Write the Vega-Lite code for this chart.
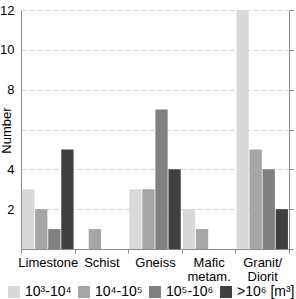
{
  "$schema": "https://vega.github.io/schema/vega-lite/v6.json",
  "width": 268,
  "height": 239,
  "autosize": "none",
  "padding": {"left": 21, "top": 10, "right": 7, "bottom": 50},
  "background": "white",
  "config": {
    "font": "Liberation Sans",
    "view": {"stroke": null},
    "axis": {"labelColor": "#000", "titleColor": "#000", "domainColor": "#8c8c8c", "tickColor": "#8c8c8c"}
  },
  "data": {
    "values": [
      {"rock": "Limestone", "size": "10³-10⁴", "count": 3},
      {"rock": "Limestone", "size": "10⁴-10⁵", "count": 2},
      {"rock": "Limestone", "size": "10⁵-10⁶", "count": 1},
      {"rock": "Limestone", "size": ">10⁶ [m³]", "count": 5},
      {"rock": "Schist", "size": "10³-10⁴", "count": 0},
      {"rock": "Schist", "size": "10⁴-10⁵", "count": 1},
      {"rock": "Schist", "size": "10⁵-10⁶", "count": 0},
      {"rock": "Schist", "size": ">10⁶ [m³]", "count": 0},
      {"rock": "Gneiss", "size": "10³-10⁴", "count": 3},
      {"rock": "Gneiss", "size": "10⁴-10⁵", "count": 3},
      {"rock": "Gneiss", "size": "10⁵-10⁶", "count": 7},
      {"rock": "Gneiss", "size": ">10⁶ [m³]", "count": 4},
      {"rock": "Mafic metam.", "size": "10³-10⁴", "count": 2},
      {"rock": "Mafic metam.", "size": "10⁴-10⁵", "count": 1},
      {"rock": "Mafic metam.", "size": "10⁵-10⁶", "count": 0},
      {"rock": "Mafic metam.", "size": ">10⁶ [m³]", "count": 0},
      {"rock": "Granit/Diorit", "size": "10³-10⁴", "count": 12},
      {"rock": "Granit/Diorit", "size": "10⁴-10⁵", "count": 5},
      {"rock": "Granit/Diorit", "size": "10⁵-10⁶", "count": 4},
      {"rock": "Granit/Diorit", "size": ">10⁶ [m³]", "count": 2}
    ]
  },
  "encoding": {
    "x": {
      "field": "rock",
      "type": "nominal",
      "sort": ["Limestone", "Schist", "Gneiss", "Mafic metam.", "Granit/Diorit"],
      "scale": {"paddingInner": 0, "paddingOuter": 0},
      "axis": {
        "title": null,
        "labelAngle": 0,
        "labelFontSize": 13,
        "labelBaseline": "middle",
        "labelPadding": 9,
        "labelLineHeight": 14,
        "tickSize": 4,
        "tickBand": "extent",
        "labelExpr": "datum.label == 'Mafic metam.' ? ['Mafic', 'metam.'] : datum.label == 'Granit/Diorit' ? ['Granit/', 'Diorit'] : datum.label"
      }
    },
    "y": {
      "field": "count",
      "type": "quantitative",
      "scale": {"domain": [0, 12], "nice": false}
    }
  },
  "layer": [
    {
      "mark": {"type": "bar"},
      "encoding": {
        "xOffset": {
          "field": "size",
          "type": "nominal",
          "sort": ["10³-10⁴", "10⁴-10⁵", "10⁵-10⁶", ">10⁶ [m³]"],
          "scale": {"paddingInner": 0.06, "paddingOuter": 0.08}
        },
        "y": {
          "field": "count",
          "type": "quantitative",
          "axis": {
            "title": "Number",
            "titleFontSize": 13,
            "titleFontWeight": "normal",
            "titleX": -8,
            "titleY": 120,
            "titleBaseline": "bottom",
            "labelFontSize": 13,
            "tickSize": 0,
            "labelPadding": 7,
            "values": [0, 2, 4, 6, 8, 10, 12],
            "labelExpr": "datum.value == 0 || datum.value == 6 ? '' : datum.label",
            "grid": true,
            "gridColor": "#d4d4d4",
            "gridDash": [5, 3],
            "gridWidth": 1
          }
        },
        "color": {
          "field": "size",
          "type": "nominal",
          "sort": ["10³-10⁴", "10⁴-10⁵", "10⁵-10⁶", ">10⁶ [m³]"],
          "scale": {"range": ["#d9d9d9", "#a6a6a6", "#808080", "#404040"]},
          "legend": {
            "title": null,
            "orient": "none",
            "legendX": -14,
            "legendY": 275,
            "direction": "horizontal",
            "columns": 4,
            "symbolType": "square",
            "symbolSize": 144,
            "symbolStrokeWidth": 0,
            "symbolOpacity": 1,
            "labelFontSize": 14,
            "labelOffset": 4,
            "columnPadding": 5
          }
        }
      }
    },
    {
      "mark": {"type": "rule", "opacity": 0},
      "encoding": {
        "y": {
          "field": "count",
          "type": "quantitative",
          "axis": {
            "orient": "right",
            "title": null,
            "labels": false,
            "grid": false,
            "tickSize": 4,
            "values": [0, 2, 4, 6, 8, 10, 12]
          }
        }
      }
    }
  ],
  "resolve": {"axis": {"y": "independent"}}
}
